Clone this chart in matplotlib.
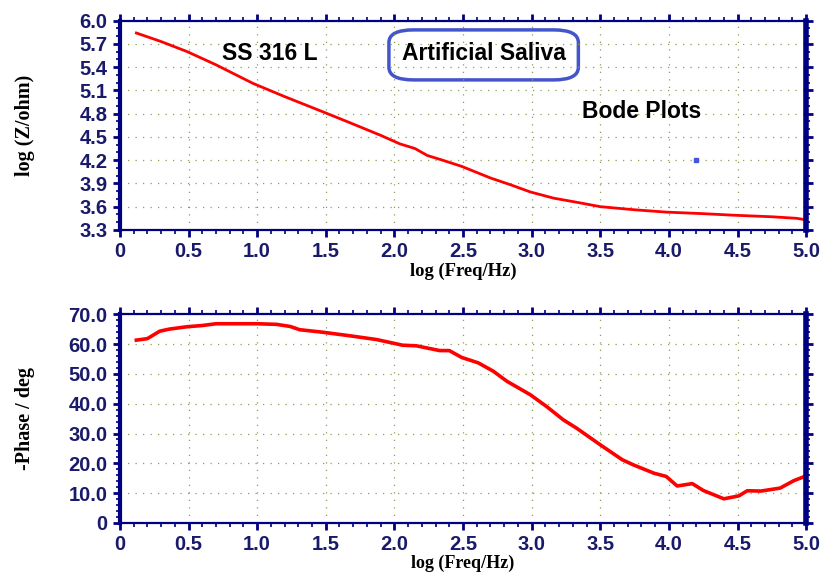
"""
Bode plots (|Z| and phase) for SS 316 L in artificial saliva.
"""

import matplotlib
matplotlib.use('Agg')
import matplotlib.pyplot as plt
from matplotlib.patches import FancyBboxPatch
from matplotlib.ticker import MultipleLocator, FuncFormatter

# log(Z/ohm) vs log(Freq/Hz)
logf_z = [0.12, 0.30, 0.49, 0.70, 0.97, 1.20, 1.47, 1.68, 1.90, 2.04, 2.15, 2.24,
          2.35, 2.49, 2.70, 2.85, 2.99, 3.16, 3.35, 3.50, 3.75, 3.98, 4.25, 4.47,
          4.75, 4.93, 5.00]
logz = [5.84, 5.73, 5.60, 5.43, 5.19, 5.02, 4.83, 4.68, 4.52, 4.41, 4.35, 4.26,
        4.20, 4.12, 3.97, 3.88, 3.79, 3.71, 3.65, 3.60, 3.56, 3.53, 3.51, 3.49,
        3.47, 3.45, 3.43]

# -phase (deg) vs log(Freq/Hz)
logf_p = [0.12, 0.20, 0.29, 0.36, 0.49, 0.60, 0.70, 0.85, 1.00, 1.14, 1.24, 1.31,
          1.47, 1.67, 1.87, 2.06, 2.16, 2.33, 2.40, 2.49, 2.61, 2.72, 2.82, 2.99,
          3.11, 3.23, 3.33, 3.50, 3.66, 3.74, 3.89, 3.98, 4.06, 4.17, 4.25, 4.40,
          4.51, 4.57, 4.67, 4.81, 4.91, 5.00]
phase = [61.3, 61.8, 64.3, 65.0, 65.8, 66.2, 66.8, 66.8, 66.8, 66.6, 65.9, 64.8,
         64.0, 62.8, 61.5, 59.6, 59.4, 57.8, 57.8, 55.5, 53.7, 50.9, 47.5, 43.0,
         39.0, 34.6, 31.7, 26.2, 21.2, 19.5, 16.7, 15.6, 12.4, 13.2, 10.9, 8.1,
         9.1, 10.8, 10.7, 11.7, 14.2, 15.8]

NAVY = '#000080'
TICK_TXT = '#1a1a6b'
SANS = ['Liberation Sans', 'DejaVu Sans']
SERIF = ['Liberation Serif', 'DejaVu Serif']


def style_axes(ax, ymin, ymax, ystep, yminor, fmt):
    ax.set_xlim(0, 5.0)
    ax.set_ylim(ymin, ymax)
    ax.xaxis.set_major_locator(MultipleLocator(0.5))
    ax.xaxis.set_minor_locator(MultipleLocator(0.1))
    ax.yaxis.set_major_locator(MultipleLocator(ystep))
    ax.yaxis.set_minor_locator(MultipleLocator(yminor))
    ax.xaxis.set_major_formatter(FuncFormatter(lambda v, p: '0' if abs(v) < 1e-9 else f'{v:.1f}'))
    ax.yaxis.set_major_formatter(FuncFormatter(fmt))
    ax.grid(True, which='major', color='#8aa050', linestyle=(0, (1, 5)), linewidth=0.9)
    for side in ['top', 'bottom']:
        ax.spines[side].set_linewidth(1.6)
    ax.spines['left'].set_linewidth(3.0)
    ax.spines['right'].set_linewidth(4.0)
    for s in ax.spines.values():
        s.set_color(NAVY)
    ax.tick_params(which='both', direction='out', top=True, right=True, color=NAVY)
    ax.tick_params(which='major', length=5, width=2)
    ax.tick_params(which='minor', length=3, width=1.2)
    ax.tick_params(labelsize=14.5, labelcolor=TICK_TXT, pad=4)
    ax.tick_params(axis='y', labelright=False)
    ax.tick_params(axis='x', labeltop=False)
    for lab in ax.get_xticklabels() + ax.get_yticklabels():
        lab.set_fontweight('bold')
        lab.set_family(SANS)


fig = plt.figure(figsize=(8.21, 5.72), dpi=100)
ax1 = fig.add_axes([0.146, 0.598, 0.836, 0.366])
ax2 = fig.add_axes([0.146, 0.0857, 0.836, 0.365])

# impedance magnitude
ax1.plot(logf_z, logz, color='red', lw=2.0)
ax1.plot([4.2], [4.2], marker='s', ms=3.5, color='#4455dd')
style_axes(ax1, 3.3, 6.0, 0.3, 0.1, lambda v, p: f'{v:.1f}')
ax1.set_xlabel('log (Freq/Hz)', family=SERIF, fontweight='bold', fontsize=13.4, labelpad=1)
ax1.set_ylabel('log (Z/ohm)', family=SERIF, fontweight='bold', fontsize=14.5, labelpad=32)

ax1.text(1.09, 5.58, 'SS 316 L', fontsize=16.5, fontweight='bold',
         family=SANS, ha='center', va='center')
ax1.text(2.65, 5.58, 'Artificial Saliva', fontsize=16.5, fontweight='bold',
         family=SANS, ha='center', va='center')
box = FancyBboxPatch((1.96, 5.235), 1.38, 0.645, boxstyle='round,pad=0,rounding_size=0.18',
                     mutation_aspect=0.9, fill=False, edgecolor='#4455cc', lw=2.5)
ax1.add_patch(box)
ax1.text(3.80, 4.83, 'Bode Plots', fontsize=16.5, fontweight='bold',
         family=SANS, ha='center', va='center')

# phase angle
ax2.plot(logf_p, phase, color='red', lw=2.6)
style_axes(ax2, 0, 70, 10, 2, lambda v, p: '0' if abs(v) < 1e-9 else f'{v:.1f}')
ax2.set_xlabel('log (Freq/Hz)', family=SERIF, fontweight='bold', fontsize=13, labelpad=0)
ax2.set_ylabel('-Phase / deg', family=SERIF, fontweight='bold', fontsize=14.5, labelpad=24)

fig.savefig('out.png', dpi=100)
